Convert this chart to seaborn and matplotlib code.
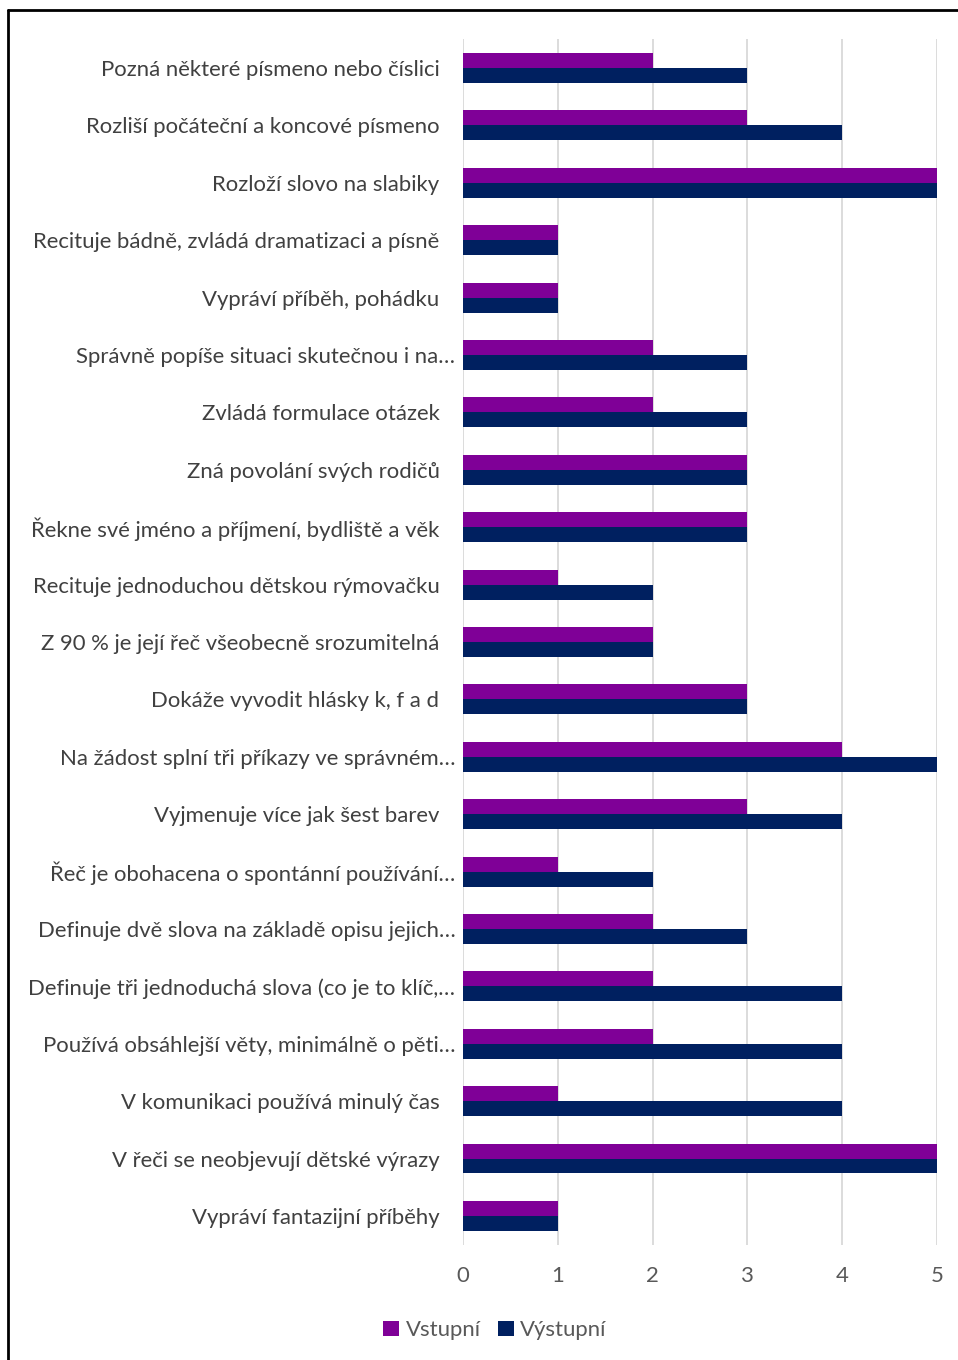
import matplotlib
matplotlib.use("Agg")
import matplotlib.pyplot as plt
import matplotlib.transforms as mtransforms
import seaborn as sns
import pandas as pd
from matplotlib.lines import Line2D
from matplotlib.patches import Patch

categories = [
    "Pozná některé písmeno nebo číslici",
    "Rozliší počáteční a koncové písmeno",
    "Rozloží slovo na slabiky",
    "Recituje bádně, zvládá dramatizaci a písně",
    "Vypráví příběh, pohádku",
    "Správně popíše situaci skutečnou i na…",
    "Zvládá formulace otázek",
    "Zná povolání svých rodičů",
    "Řekne své jméno a příjmení, bydliště a věk",
    "Recituje jednoduchou dětskou rýmovačku",
    "Z 90 % je její řeč všeobecně srozumitelná",
    "Dokáže vyvodit hlásky k, f a d",
    "Na žádost splní tři příkazy ve správném…",
    "Vyjmenuje více jak šest barev",
    "Řeč je obohacena o spontánní používání…",
    "Definuje dvě slova na základě opisu jejich…",
    "Definuje tři jednoduchá slova (co je to klíč,…",
    "Používá obsáhlejší věty, minimálně o pěti…",
    "V komunikaci používá minulý čas",
    "V řeči se neobjevují dětské výrazy",
    "Vypráví fantazijní příběhy",
]
vstupni = [2, 3, 5, 1, 1, 2, 2, 3, 3, 1, 2, 3, 4, 3, 1, 2, 2, 2, 1, 5, 1]
vystupni = [3, 4, 5, 1, 1, 3, 3, 3, 3, 2, 2, 3, 5, 4, 2, 3, 4, 4, 4, 5, 1]
series_names = ["Vstupní", "Výstupní"]
colors = ["#7F0097", "#002060"]
xticks = [0, 1, 2, 3, 4, 5]

df = pd.DataFrame({
    "cat": categories * 2,
    "val": vstupni + vystupni,
    "series": [series_names[0]] * len(categories) + [series_names[1]] * len(categories),
})

sns.set_style("white")
plt.rcParams["font.family"] = ["Lato", "DejaVu Sans"]

fig = plt.figure(figsize=(9.58, 13.6), dpi=100)
ax = fig.add_axes([0.4833, 0.0848, 0.978 - 0.4833, 0.9711 - 0.0848])

sns.barplot(data=df, y="cat", x="val", hue="series", order=categories,
            hue_order=series_names, palette=colors, orient="h",
            width=0.52, ax=ax, legend=False, linewidth=0, saturation=1)

ax.set_xlim(0, 5)
ax.set_ylim(len(categories) - 0.5, -0.5)
ax.set_xticks(xticks)
ax.set_xticklabels([str(t) for t in xticks])
ax.xaxis.grid(True, color="#D9D9D9", linewidth=1.3)
ax.set_axisbelow(True)
for s in ax.spines.values():
    s.set_visible(False)
ax.set_xlabel("")
ax.set_ylabel("")
ax.tick_params(axis="y", length=0, pad=17, labelsize=15.9, labelcolor="#404040")
ax.tick_params(axis="x", length=0, pad=15, labelsize=15.9, labelcolor="#595959")

# Excel-style: truncated labels extend slightly closer to the axis
shift = mtransforms.ScaledTranslation(16 / 100, 0, fig.dpi_scale_trans)
for lab in ax.get_yticklabels():
    if lab.get_text().endswith("…"):
        lab.set_transform(lab.get_transform() + shift)

handles = [Patch(facecolor=c, edgecolor="none") for c in colors]
fig.legend(handles, series_names, loc="center", bbox_to_anchor=(495 / 958, 1 - 1330 / 1360),
           ncol=2, frameon=False, fontsize=15.9, handlelength=0.7, handleheight=0.7,
           handletextpad=0.3, columnspacing=0.8, labelcolor="#595959")

fig.add_artist(Line2D([8 / 958, 8 / 958], [0, 1 - 10 / 1360], color="black", linewidth=2,
                      transform=fig.transFigure))
fig.add_artist(Line2D([8 / 958, 1], [1 - 10 / 1360, 1 - 10 / 1360], color="black", linewidth=2,
                      transform=fig.transFigure))

fig.savefig("out.png", dpi=100, facecolor="white")
